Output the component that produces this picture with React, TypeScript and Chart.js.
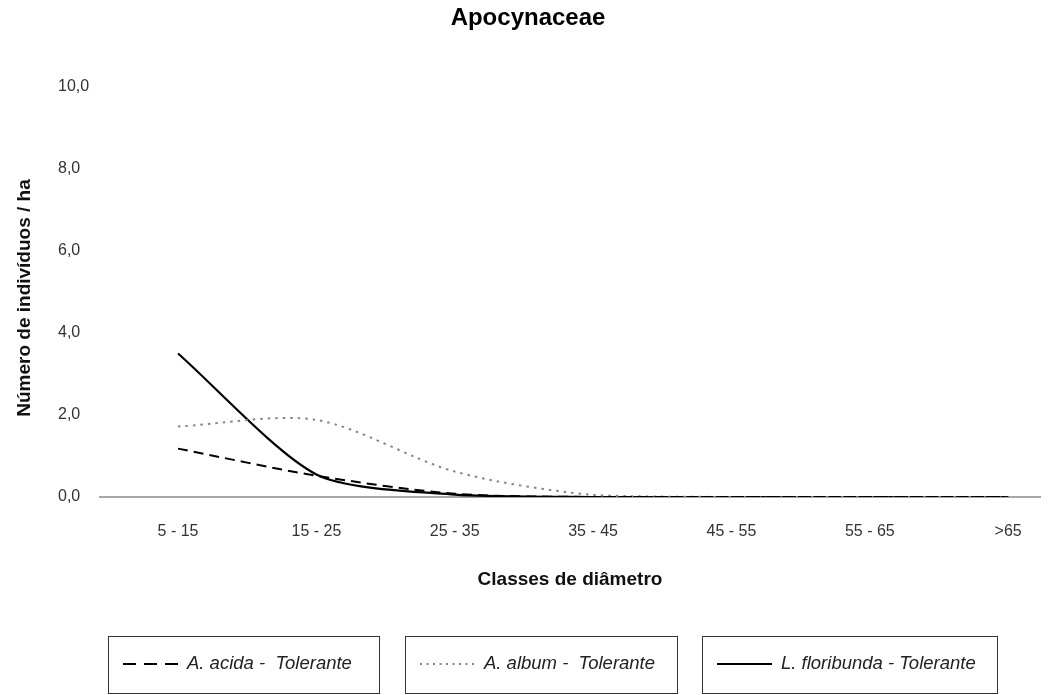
import React, { useEffect, useRef } from "react";
import { Chart, registerables } from "chart.js";

Chart.register(...registerables);

const categories = ["5 - 15", "15 - 25", "25 - 35", "35 - 45", "45 - 55", "55 - 65", ">65"];
const acidaValues = [1.18, 0.52, 0.08, 0, 0, 0, 0];
const albumValues = [1.72, 1.88, 0.62, 0.05, 0, 0, 0];
const floribundaValues = [3.5, 0.55, 0.06, 0, 0, 0, 0];
const seriesLabels = ["A. acida -  Tolerante", "A. album -  Tolerante", "L. floribunda - Tolerante"];
const yTicks = [0, 2, 4, 6, 8, 10];
const titleText = "Apocynaceae";
const xTitleText = "Classes de diâmetro";
const yTitleText = "Número de indivíduos / ha";

const FONT = "'Liberation Sans', Arial, sans-serif";

const legendBoxes = [
  { x: 108, w: 271 },
  { x: 405, w: 272 },
  { x: 702, w: 295 },
];

const boxLegendPlugin = {
  id: "boxLegend",
  afterDraw(chart: any) {
    const ctx = chart.ctx as CanvasRenderingContext2D;
    const top = 636;
    const h = 57;
    const midY = 664;
    chart.data.datasets.forEach((ds: any, i: number) => {
      const b = legendBoxes[i];
      ctx.save();
      ctx.strokeStyle = "#333";
      ctx.lineWidth = 1;
      ctx.setLineDash([]);
      ctx.strokeRect(b.x + 0.5, top + 0.5, b.w, h);
      ctx.strokeStyle = ds.borderColor;
      ctx.lineWidth = ds.borderWidth;
      ctx.setLineDash(ds.legendDash || []);
      ctx.beginPath();
      ctx.moveTo(b.x + 15, midY);
      ctx.lineTo(b.x + 70, midY);
      ctx.stroke();
      ctx.setLineDash([]);
      ctx.fillStyle = "#222";
      ctx.font = `italic 18.5px ${FONT}`;
      ctx.textBaseline = "middle";
      ctx.textAlign = "left";
      ctx.fillText(ds.label, b.x + 79, midY);
      ctx.restore();
    });
    // chart title
    ctx.save();
    ctx.fillStyle = "#000";
    ctx.font = `bold 24px ${FONT}`;
    ctx.textAlign = "center";
    ctx.textBaseline = "middle";
    ctx.fillText(titleText, 528, 18);
    ctx.restore();
    // y axis title
    ctx.save();
    ctx.translate(25, 298);
    ctx.rotate(-Math.PI / 2);
    ctx.fillStyle = "#111";
    ctx.font = `bold 19px ${FONT}`;
    ctx.textAlign = "center";
    ctx.textBaseline = "middle";
    ctx.fillText(yTitleText, 0, 0);
    ctx.restore();
  },
};

export default function App() {
  const ref = useRef<HTMLCanvasElement | null>(null);
  useEffect(() => {
    if (!ref.current) return;
    const toPts = (arr: number[]) => arr.map((v, i) => ({ x: i, y: v }));
    const chart = new Chart(ref.current, {
      type: "line",
      data: {
        datasets: [
          {
            label: seriesLabels[0],
            data: toPts(acidaValues),
            borderColor: "#000000",
            borderWidth: 2,
            borderDash: [10, 6],
            legendDash: [13, 8],
            pointRadius: 0,
            tension: 0.3,
            fill: false,
          } as any,
          {
            label: seriesLabels[1],
            data: toPts(albumValues),
            borderColor: "#858585",
            borderWidth: 2,
            borderDash: [2.5, 5],
            legendDash: [2, 4.5],
            pointRadius: 0,
            tension: 0.3,
            fill: false,
          } as any,
          {
            label: seriesLabels[2],
            data: toPts(floribundaValues),
            borderColor: "#000000",
            borderWidth: 2.2,
            pointRadius: 0,
            tension: 0.25,
            fill: false,
          } as any,
        ],
      },
      options: {
        responsive: false,
        animation: false,
        layout: { padding: { left: 58, right: 11, top: 87, bottom: 78 } },
        plugins: {
          legend: { display: false },
          tooltip: { enabled: false },
          title: { display: false },
        },
        scales: {
          x: {
            type: "linear",
            min: -0.564,
            max: 6.23,
            afterFit(scale: any) {
              scale.height = 120;
            },
            afterBuildTicks(scale: any) {
              scale.ticks = categories.map((_, i) => ({ value: i }));
            },
            grid: { display: false, drawTicks: false },
            border: { display: true, color: "#a6a6a6", width: 2 },
            ticks: {
              padding: 25,
              color: "#333",
              font: { family: FONT, size: 16 },
              maxRotation: 0,
              autoSkip: false,
              callback: (v: any) => categories[v as number] ?? "",
            },
            title: {
              display: true,
              text: xTitleText,
              color: "#111",
              font: { family: FONT, size: 19, weight: "bold" },
              padding: { top: 0, bottom: 25.6 },
            },
          },
          y: {
            min: 0,
            max: 10,
            afterFit(scale: any) {
              scale.width = 42;
            },
            afterBuildTicks(scale: any) {
              scale.ticks = yTicks.map((v) => ({ value: v }));
            },
            grid: { display: false, drawTicks: false },
            border: { display: false },
            ticks: {
              padding: 10,
              crossAlign: "far",
              color: "#333",
              font: { family: FONT, size: 16 },
              callback: (v: any) => Number(v).toFixed(1).replace(".", ","),
            },
          },
        },
      },
      plugins: [boxLegendPlugin],
    });
    return () => chart.destroy();
  }, []);

  return (
    <div style={{ position: "fixed", left: 0, top: 0, width: 1051, height: 695, background: "#fff" }}>
      <canvas ref={ref} width={1051} height={695} style={{ width: 1051, height: 695, display: "block" }} />
    </div>
  );
}
